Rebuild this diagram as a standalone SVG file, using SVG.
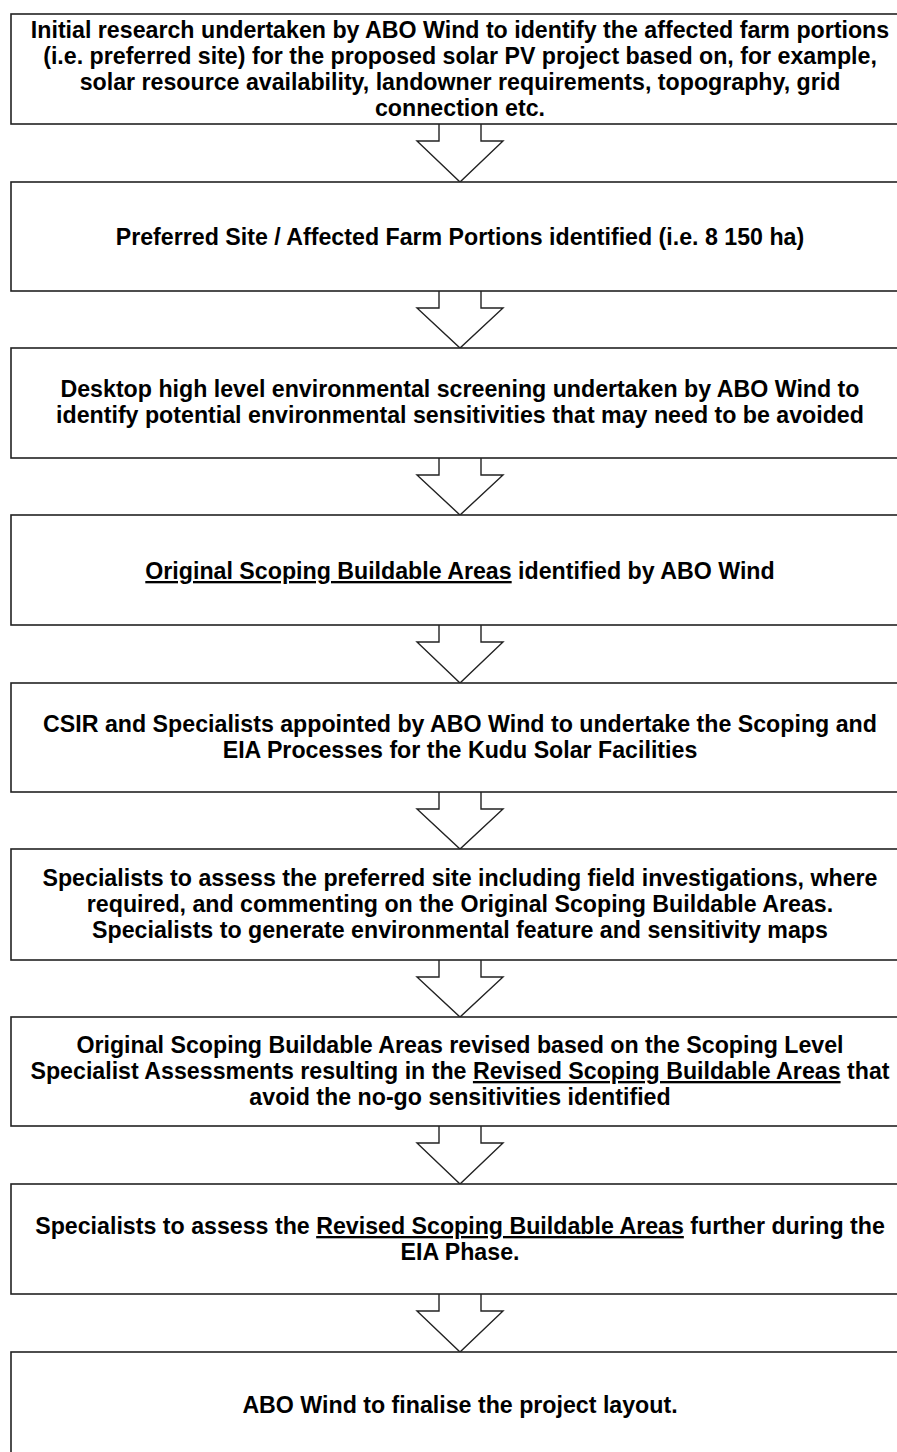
<svg xmlns="http://www.w3.org/2000/svg" width="897" height="1452" viewBox="0 0 897 1452">
<style>
.box{fill:#fff;stroke:#222;stroke-width:1.6}
.arr{fill:none;stroke:#222;stroke-width:1.4;stroke-linejoin:miter}
text{font-family:"Liberation Sans",Arial,sans-serif;font-weight:bold;font-size:23.2px;fill:#000;text-anchor:middle}
.u{text-decoration:underline}
</style>
<rect width="897" height="1452" fill="#fff"/>
<g id="connectors">
<polyline class="arr" points="439,124 439,141 417,141 460,182 503,141 481,141 481,124"/>
<polyline class="arr" points="439,291 439,308 417,308 460,348 503,308 481,308 481,291"/>
<polyline class="arr" points="439,458 439,475 417,475 460,515 503,475 481,475 481,458"/>
<polyline class="arr" points="439,625 439,642 417,642 460,683 503,642 481,642 481,625"/>
<polyline class="arr" points="439,792 439,809 417,809 460,849 503,809 481,809 481,792"/>
<polyline class="arr" points="439,960 439,977 417,977 460,1017 503,977 481,977 481,960"/>
<polyline class="arr" points="439,1126 439,1143 417,1143 460,1184 503,1143 481,1143 481,1126"/>
<polyline class="arr" points="439,1294 439,1311 417,1311 460,1352 503,1311 481,1311 481,1294"/>
</g>
<g id="n1">
<rect class="box" x="11" y="14" width="900" height="110"/>
<text x="460" y="38">Initial research undertaken by ABO Wind to identify the affected farm portions</text>
<text x="460" y="64">(i.e. preferred site) for the proposed solar PV project based on, for example,</text>
<text x="460" y="90">solar resource availability, landowner requirements, topography, grid</text>
<text x="460" y="116">connection etc.</text>
</g>
<g id="n2">
<rect class="box" x="11" y="182" width="900" height="109"/>
<text x="460" y="245">Preferred Site / Affected Farm Portions identified (i.e. 8 150 ha)</text>
</g>
<g id="n3">
<rect class="box" x="11" y="348" width="900" height="110"/>
<text x="460" y="397">Desktop high level environmental screening undertaken by ABO Wind to</text>
<text x="460" y="423">identify potential environmental sensitivities that may need to be avoided</text>
</g>
<g id="n4">
<rect class="box" x="11" y="515" width="900" height="110"/>
<text x="460" y="579"><tspan class="u">Original Scoping Buildable Areas</tspan> identified by ABO Wind</text>
</g>
<g id="n5">
<rect class="box" x="11" y="683" width="900" height="109"/>
<text x="460" y="732">CSIR and Specialists appointed by ABO Wind to undertake the Scoping and</text>
<text x="460" y="758">EIA Processes for the Kudu Solar Facilities</text>
</g>
<g id="n6">
<rect class="box" x="11" y="849" width="900" height="111"/>
<text x="460" y="886">Specialists to assess the preferred site including field investigations, where</text>
<text x="460" y="912">required, and commenting on the Original Scoping Buildable Areas.</text>
<text x="460" y="938">Specialists to generate environmental feature and sensitivity maps</text>
</g>
<g id="n7">
<rect class="box" x="11" y="1017" width="900" height="109"/>
<text x="460" y="1053">Original Scoping Buildable Areas revised based on the Scoping Level</text>
<text x="460" y="1079">Specialist Assessments resulting in the <tspan class="u">Revised Scoping Buildable Areas</tspan> that</text>
<text x="460" y="1105">avoid the no-go sensitivities identified</text>
</g>
<g id="n8">
<rect class="box" x="11" y="1184" width="900" height="110"/>
<text x="460" y="1234">Specialists to assess the <tspan class="u">Revised Scoping Buildable Areas</tspan> further during the</text>
<text x="460" y="1260">EIA Phase.</text>
</g>
<g id="n9">
<rect class="box" x="11" y="1352" width="900" height="120"/>
<text x="460" y="1413">ABO Wind to finalise the project layout.</text>
</g>
</svg>
